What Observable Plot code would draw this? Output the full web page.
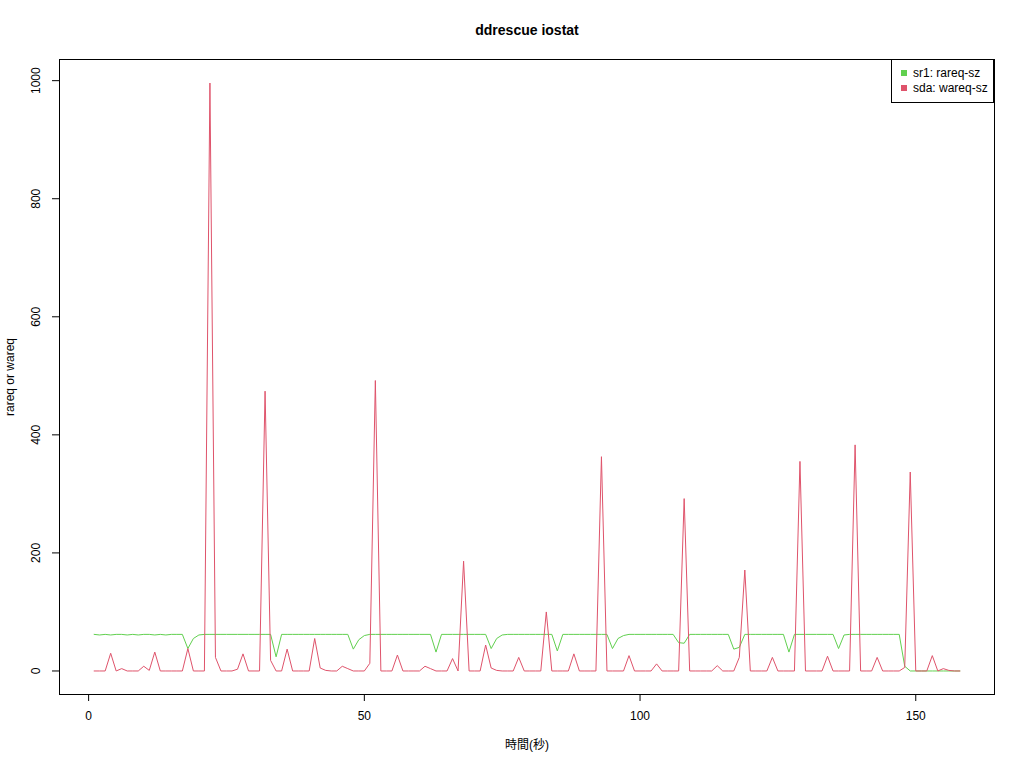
<!DOCTYPE html>
<html>
<head>
<meta charset="utf-8">
<script src="https://cdn.jsdelivr.net/npm/d3@7"></script>
<script src="https://cdn.jsdelivr.net/npm/@observablehq/plot@0.6"></script>
<style>
  body { margin: 0; background: #fff; }
  #wrap { position: relative; width: 1024px; height: 768px; font-family: "Liberation Sans", Arial, sans-serif; }
  #legend { position: absolute; left: 891px; top: 59px; width: 101px; height: 42px; border: 1px solid #000; background: #fff; font-size: 12px; color: #000; }
  .item { position: absolute; left: 9px; white-space: nowrap; line-height: 14px; }
  .sw { display: inline-block; width: 6px; height: 6px; margin-right: 6px; vertical-align: 1px; }
</style>
</head>
<body>
<div id="wrap"></div>
<script>
const title = "ddrescue iostat";
const xLabel = "時間(秒)";
const yLabel = "rareq or wareq";
const seriesNames = ["sr1: rareq-sz", "sda: wareq-sz"];
const seriesColors = ["#61D04F", "#DF536B"];
const xTicks = [0, 50, 100, 150];
const yTicks = [0, 200, 400, 600, 800, 1000];

// seconds 1..158
const seconds = [
  1,2,3,4,5,6,7,8,9,10, 11,12,13,14,15,16,17,18,19,20,
  21,22,23,24,25,26,27,28,29,30, 31,32,33,34,35,36,37,38,39,40,
  41,42,43,44,45,46,47,48,49,50, 51,52,53,54,55,56,57,58,59,60,
  61,62,63,64,65,66,67,68,69,70, 71,72,73,74,75,76,77,78,79,80,
  81,82,83,84,85,86,87,88,89,90, 91,92,93,94,95,96,97,98,99,100,
  101,102,103,104,105,106,107,108,109,110, 111,112,113,114,115,116,117,118,119,120,
  121,122,123,124,125,126,127,128,129,130, 131,132,133,134,135,136,137,138,139,140,
  141,142,143,144,145,146,147,148,149,150, 151,152,153,154,155,156,157,158
];

// sr1: rareq-sz
const sr1 = [
  62,61,62,61,62,62,61,62,61,62,
  62,61,62,61,62,62,62,38,55,61,
  62,62,62,62,62,62,62,62,62,62,
  62,62,62,24,62,62,62,62,62,62,
  62,62,62,62,62,62,62,37,53,60,
  62,62,62,62,62,62,62,62,62,62,
  62,62,32,62,62,62,62,62,62,62,
  62,62,38,55,61,62,62,62,62,62,
  62,62,62,62,34,62,62,62,62,62,
  62,62,62,62,38,55,60,62,62,62,
  62,62,62,62,62,62,48,47,62,62,
  62,62,62,62,62,62,37,40,62,62,
  62,62,62,62,62,62,32,62,62,62,
  62,62,62,62,62,38,61,62,62,62,
  62,62,62,62,62,62,62,8,0,0,
  0,0,0,0,0,0,0,0
];

// sda: wareq-sz
const sda = [
  0,0,0,30,0,4,0,0,0,8,
  1,32,0,0,0,0,0,38,0,0,
  0,996,23,0,0,0,3,29,0,0,
  0,474,18,0,0,37,0,0,0,0,
  55,5,1,0,0,8,4,0,0,0,
  13,492,0,0,0,27,0,0,0,0,
  8,4,0,0,0,21,0,186,0,0,
  0,44,5,1,0,0,0,23,0,0,
  0,0,100,0,0,0,0,29,0,0,
  0,0,363,0,0,0,0,26,0,0,
  0,0,12,0,0,0,0,292,0,0,
  0,0,0,9,0,0,0,23,171,0,
  0,0,0,23,0,0,0,0,355,0,
  0,0,0,25,0,0,0,0,383,0,
  0,0,23,0,0,0,0,6,337,0,
  0,0,26,0,4,1,0,0
];

const rows1 = seconds.map((t, i) => ({t, v: sr1[i]}));
const rows2 = seconds.map((t, i) => ({t, v: sda[i]}));

// R-style 4% axis extension
const xmin = d3.min(seconds), xmax = d3.max(seconds);
const ymin = Math.min(d3.min(sr1), d3.min(sda)), ymax = Math.max(d3.max(sr1), d3.max(sda));
const xe = (xmax - xmin) * 0.04, ye = (ymax - ymin) * 0.04;

const chart = Plot.plot({
  width: 1024,
  height: 768,
  marginLeft: 59,
  marginRight: 30,
  marginTop: 59,
  marginBottom: 74,
  style: { fontFamily: "Liberation Sans, Arial, sans-serif", fontSize: "12px", background: "#fff", color: "#000" },
  x: { domain: [xmin - xe, xmax + xe] },
  y: { domain: [ymin - ye, ymax + ye] },
  marks: [
    Plot.axisX({ ticks: xTicks, tickSize: 7, tickFormat: () => "", label: null, stroke: "#000" }),
    Plot.axisY({ ticks: yTicks, tickSize: 7, tickFormat: () => "", label: null, stroke: "#000" }),
    Plot.text(xTicks, { x: d => d, frameAnchor: "bottom", dy: 22, lineAnchor: "middle", textAnchor: "middle", text: d => String(d), fontSize: 12, fill: "#000" }),
    Plot.text(yTicks, { y: d => d, frameAnchor: "left", dx: -23, rotate: -90, lineAnchor: "middle", textAnchor: "middle", text: d => String(d), fontSize: 12, fill: "#000" }),
    Plot.lineY(rows1, { x: "t", y: "v", stroke: seriesColors[0], strokeWidth: 1 }),
    Plot.lineY(rows2, { x: "t", y: "v", stroke: seriesColors[1], strokeWidth: 1 }),
    Plot.frame({ stroke: "#000", strokeWidth: 1 }),
    Plot.text([title], { frameAnchor: "top", dy: -29, lineAnchor: "middle", textAnchor: "middle", fontWeight: "bold", fontSize: 14, fill: "#000" }),
    Plot.text([xLabel], { frameAnchor: "bottom", dy: 51, lineAnchor: "middle", textAnchor: "middle", fontSize: 12, fill: "#000", fontFamily: "Liberation Sans, Noto Sans CJK JP, sans-serif" }),
    Plot.text([yLabel], { frameAnchor: "left", dx: -49, rotate: -90, lineAnchor: "middle", textAnchor: "middle", fontSize: 12, fill: "#000" })
  ]
});

const wrap = document.getElementById("wrap");
wrap.appendChild(chart);
const legend = document.createElement("div");
legend.id = "legend";
seriesNames.forEach((name, i) => {
  const it = document.createElement("div");
  it.className = "item";
  it.style.top = (6 + i * 15) + "px";
  const sw = document.createElement("span");
  sw.className = "sw";
  sw.style.background = seriesColors[i];
  it.appendChild(sw);
  it.appendChild(document.createTextNode(name));
  legend.appendChild(it);
});
wrap.appendChild(legend);
</script>
</body>
</html>
